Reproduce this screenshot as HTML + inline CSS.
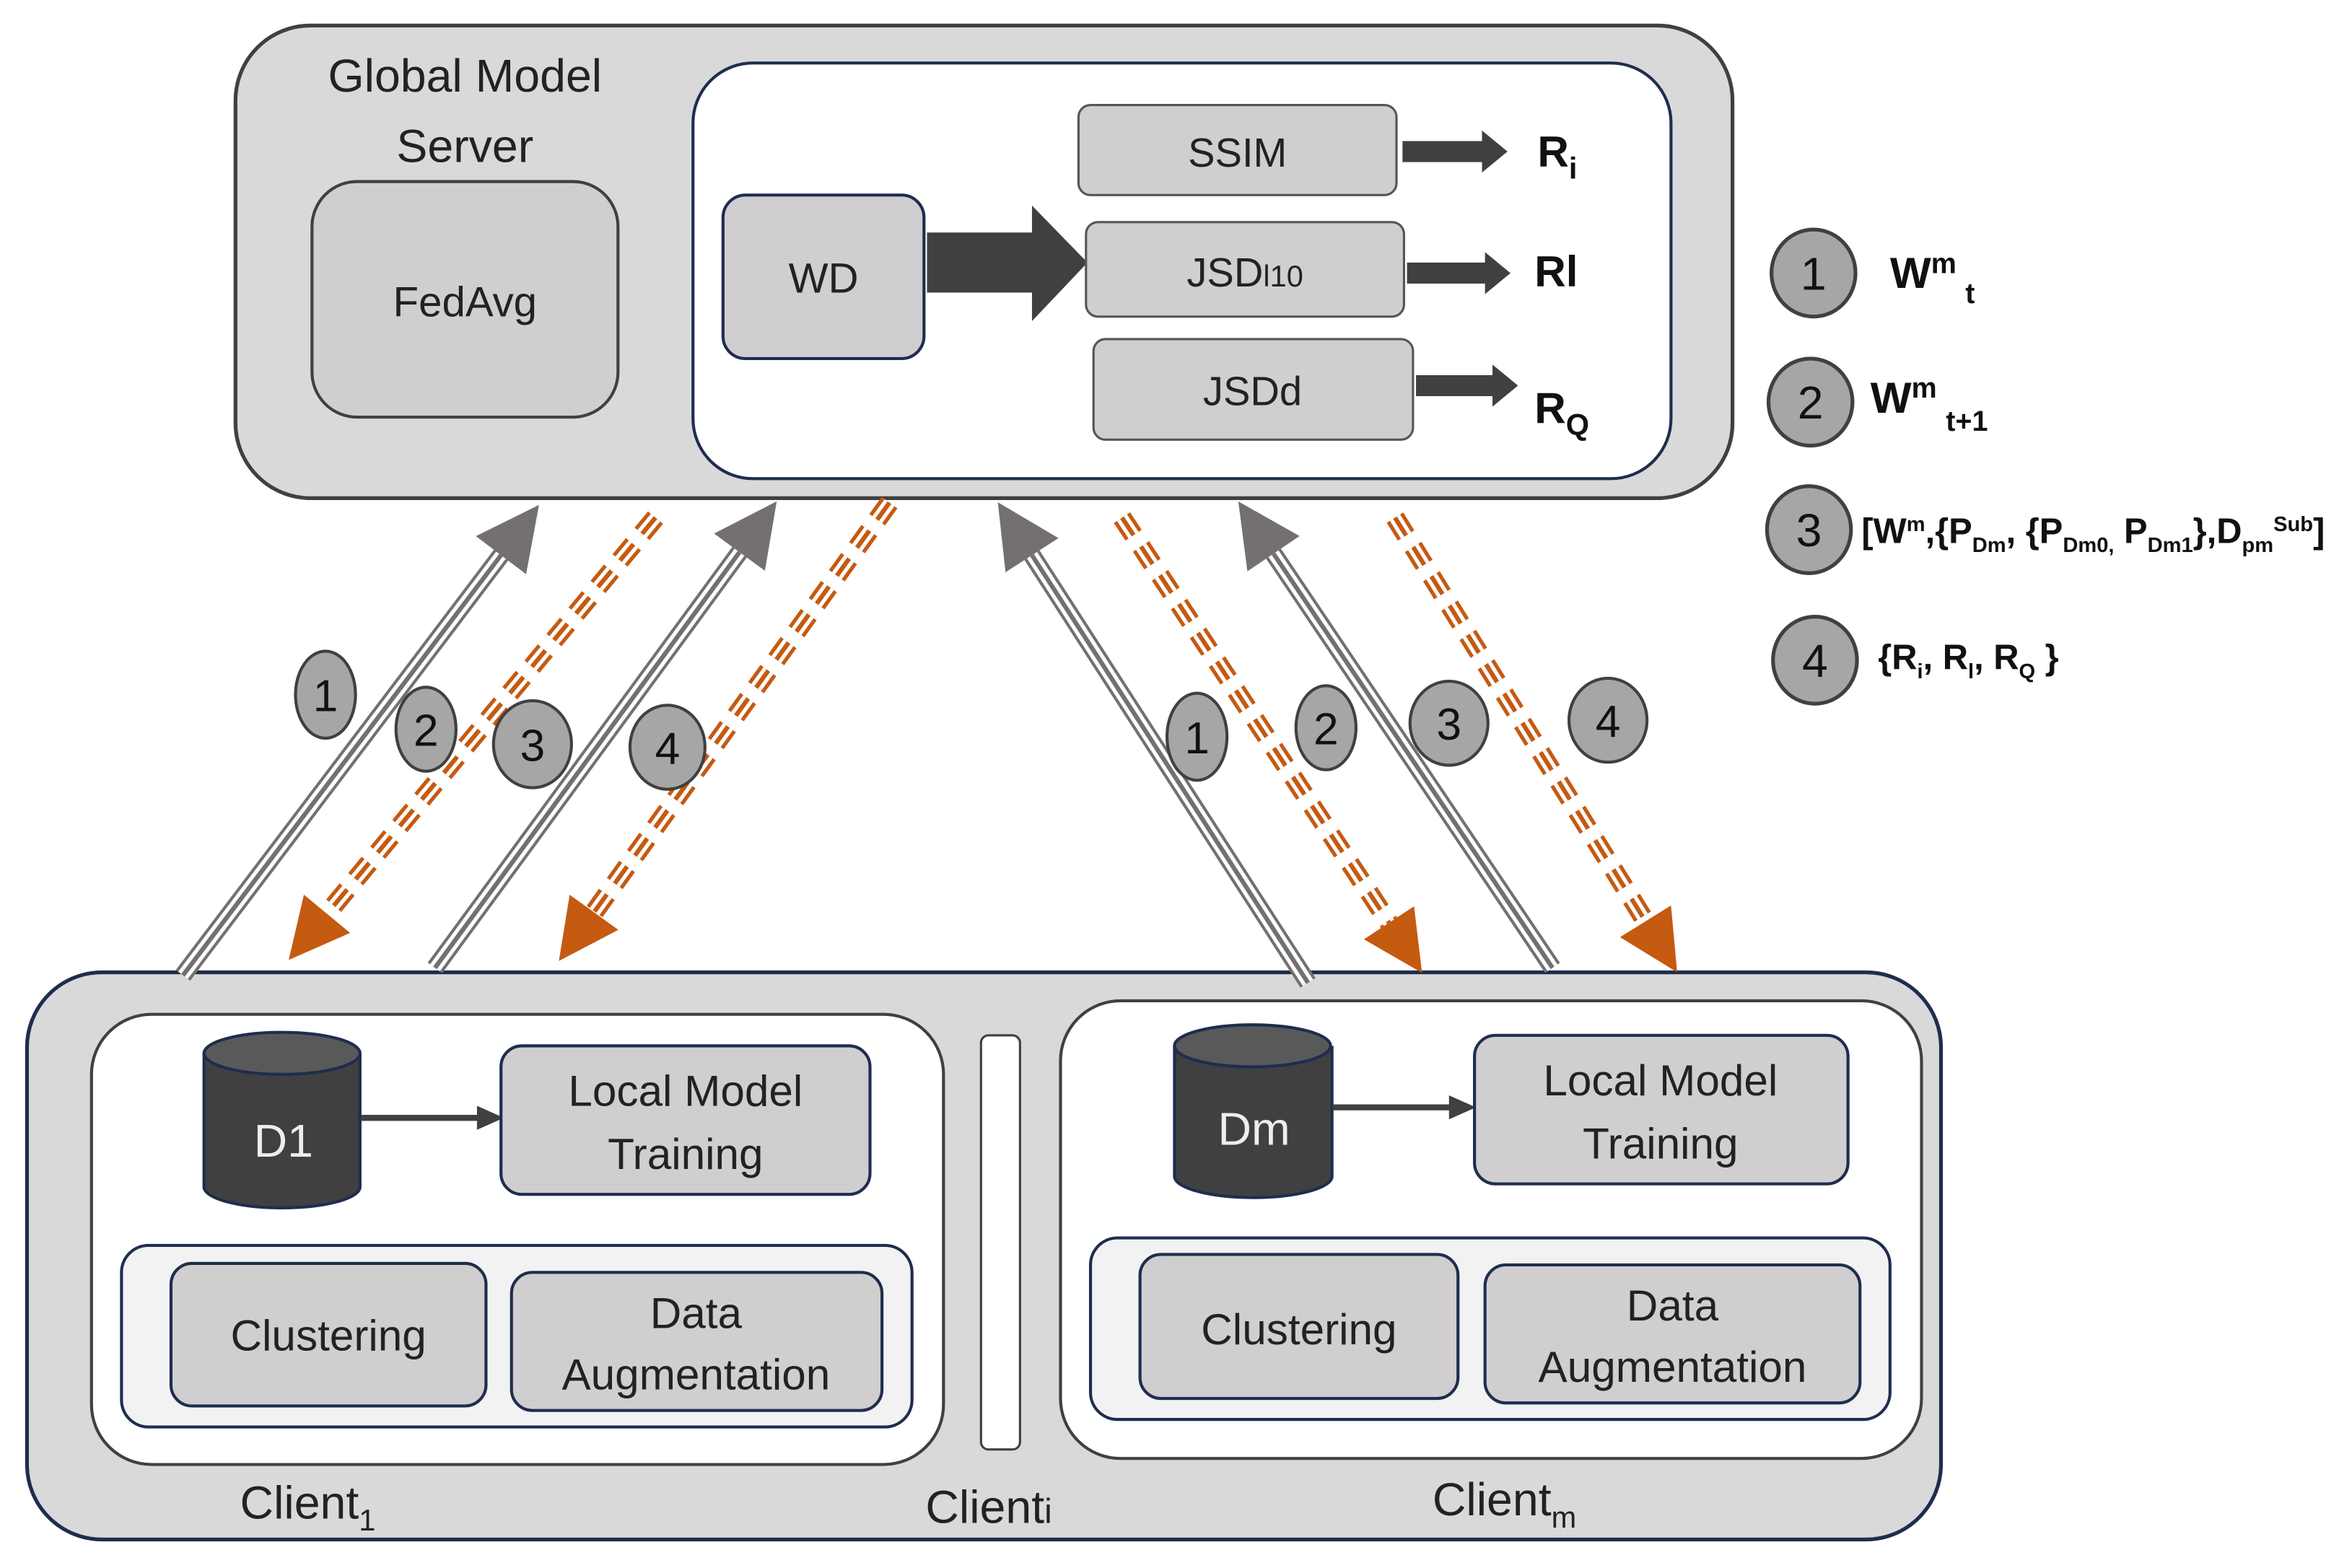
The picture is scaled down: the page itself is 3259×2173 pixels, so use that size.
<!DOCTYPE html>
<html><head><meta charset="utf-8">
<style>
html,body{margin:0;padding:0;background:#fff;}
svg{display:block;}
text{font-family:"Liberation Sans",sans-serif;}
</style></head>
<body>
<svg width="3259" height="2173" viewBox="0 0 1568 1045" preserveAspectRatio="none" xmlns="http://www.w3.org/2000/svg">
<defs>
<marker id="mg" markerUnits="userSpaceOnUse" markerWidth="50" markerHeight="50" refX="0" refY="0" viewBox="0 -25 45 50" orient="auto"><path d="M0,-21 L42,0 L0,21 Z" fill="#757070"/></marker>
<marker id="mo" markerUnits="userSpaceOnUse" markerWidth="50" markerHeight="50" refX="0" refY="0" viewBox="0 -25 45 50" orient="auto"><path d="M0,-20 L40,0 L0,20 Z" fill="#c55a11"/></marker>
</defs>

<!-- Server -->
<rect x="157" y="17" width="998" height="315" rx="50" fill="#d9d9d9" stroke="#404040" stroke-width="2.5"/>
<text x="310" y="61" font-size="31" text-anchor="middle" fill="#222">Global Model</text>
<text x="310" y="108" font-size="31" text-anchor="middle" fill="#222">Server</text>
<rect x="208" y="121" width="204" height="157" rx="30" fill="#d0cece" stroke="#404040" stroke-width="2"/>
<text x="310" y="211" font-size="28" text-anchor="middle" fill="#222">FedAvg</text>
<rect x="462" y="42" width="652" height="277" rx="40" fill="#fff" stroke="#1f2d4d" stroke-width="2"/>
<rect x="482" y="130" width="134" height="109" rx="15" fill="#d0cece" stroke="#1f2d4d" stroke-width="2"/>
<text x="549" y="195" font-size="28" text-anchor="middle" fill="#222">WD</text>
<path d="M618,155 L688,155 L688,137 L725,175 L688,214 L688,195 L618,195 Z" fill="#404040"/>
<rect x="719" y="70" width="212" height="60" rx="8" fill="#d0cece" stroke="#555" stroke-width="1.5"/>
<text x="825" y="111" font-size="27" text-anchor="middle" fill="#222">SSIM</text>
<rect x="724" y="148" width="212" height="63" rx="8" fill="#d0cece" stroke="#555" stroke-width="1.5"/>
<text x="830" y="191" font-size="27" text-anchor="middle" fill="#222">JSD<tspan font-size="20">l10</tspan></text>
<rect x="729" y="226" width="213" height="67" rx="8" fill="#d0cece" stroke="#555" stroke-width="1.5"/>
<text x="835" y="270" font-size="27" text-anchor="middle" fill="#222">JSDd</text>
<path d="M935,94 L988,94 L988,87 L1005,101 L988,115 L988,108 L935,108 Z" fill="#404040"/>
<path d="M938,175 L990,175 L990,168 L1007,182 L990,196 L990,189 L938,189 Z" fill="#404040"/>
<path d="M944,250 L995,250 L995,243 L1012,257 L995,271 L995,264 L944,264 Z" fill="#404040"/>
<text x="1025" y="111" font-size="29" font-weight="bold" font-family="Liberation Mono" fill="#111">R<tspan font-size="20" dy="8">i</tspan></text>
<text x="1023" y="191" font-size="29" font-weight="bold" fill="#111">Rl</text>
<text x="1023" y="282" font-size="29" font-weight="bold" font-family="Liberation Mono" fill="#111">R<tspan font-size="20" dy="8">Q</tspan></text>

<!-- Legend -->
<g fill="#a6a6a6" stroke="#404040" stroke-width="2.5">
<ellipse cx="1209" cy="182" rx="28" ry="29"/>
<ellipse cx="1207" cy="268" rx="28" ry="29"/>
<ellipse cx="1206" cy="353" rx="28" ry="29"/>
<ellipse cx="1210" cy="440" rx="28" ry="29"/>
</g>
<g font-size="31" text-anchor="middle" fill="#111">
<text x="1209" y="193">1</text><text x="1207" y="279">2</text><text x="1206" y="364">3</text><text x="1210" y="451">4</text>
</g>
<text x="1260" y="192" font-size="29" font-weight="bold" fill="#111">W<tspan font-size="19" dy="-10">m</tspan><tspan font-size="19" dy="20" dx="6">t</tspan></text>
<text x="1247" y="275" font-size="29" font-weight="bold" fill="#111">W<tspan font-size="19" dy="-10">m</tspan><tspan font-size="19" dy="22" dx="6">t+1</tspan></text>
<text x="1241" y="362" font-size="23.5" font-weight="bold" fill="#111">[W<tspan font-size="14" dy="-8">m</tspan><tspan dy="8">,{P</tspan><tspan font-size="14" dy="6">Dm</tspan><tspan dy="-6">, {P</tspan><tspan font-size="14" dy="6">Dm0,</tspan><tspan dy="-6"> P</tspan><tspan font-size="14" dy="6">Dm1</tspan><tspan dy="-6">},D</tspan><tspan font-size="14" dy="6">pm</tspan><tspan font-size="14" dy="-14">Sub</tspan><tspan dy="8">]</tspan></text>
<text x="1252" y="446" font-size="23.5" font-weight="bold" fill="#111">{R<tspan font-size="14" dy="6">i</tspan><tspan dy="-6">, R</tspan><tspan font-size="14" dy="6">l</tspan><tspan dy="-6">, R</tspan><tspan font-size="14" dy="6">Q</tspan><tspan dy="-6"> }</tspan></text>

<!-- Clients -->
<rect x="18" y="648" width="1276" height="378" rx="50" fill="#d9d9d9" stroke="#1f2d4d" stroke-width="2.5"/>
<rect x="61" y="676" width="568" height="300" rx="40" fill="#fff" stroke="#404040" stroke-width="2"/>
<rect x="654" y="690" width="26" height="276" rx="5" fill="#fff" stroke="#404040" stroke-width="1.5"/>
<rect x="707" y="667" width="574" height="305" rx="40" fill="#fff" stroke="#404040" stroke-width="2"/>

<!-- D1 -->
<path d="M136,702 L136,791 A52,14 0 0 0 240,791 L240,702" fill="#404040" stroke="#1f2d4d" stroke-width="2"/>
<ellipse cx="188" cy="702" rx="52" ry="14" fill="#595959" stroke="#1f2d4d" stroke-width="2"/>
<text x="189" y="771" font-size="31" text-anchor="middle" fill="#eee">D1</text>
<line x1="241" y1="745" x2="320" y2="745" stroke="#404040" stroke-width="4"/>
<path d="M318,737 L336,745 L318,753 Z" fill="#404040"/>
<rect x="334" y="697" width="246" height="99" rx="14" fill="#d0cece" stroke="#1f2d4d" stroke-width="2"/>
<text x="457" y="737" font-size="29" text-anchor="middle" fill="#222">Local Model</text>
<text x="457" y="779" font-size="29" text-anchor="middle" fill="#222">Training</text>
<rect x="81" y="830" width="527" height="121" rx="18" fill="#f2f2f2" stroke="#1f2d4d" stroke-width="2"/>
<rect x="114" y="842" width="210" height="95" rx="14" fill="#d0cece" stroke="#1f2d4d" stroke-width="2"/>
<text x="219" y="900" font-size="29" text-anchor="middle" fill="#222">Clustering</text>
<rect x="341" y="848" width="247" height="92" rx="14" fill="#d0cece" stroke="#1f2d4d" stroke-width="2"/>
<text x="464" y="885" font-size="29" text-anchor="middle" fill="#222">Data</text>
<text x="464" y="926" font-size="29" text-anchor="middle" fill="#222">Augmentation</text>

<!-- Dm -->
<path d="M783,697 L783,784 A52,14 0 0 0 888,784 L888,697" fill="#404040" stroke="#1f2d4d" stroke-width="2"/>
<ellipse cx="835" cy="697" rx="52" ry="14" fill="#595959" stroke="#1f2d4d" stroke-width="2"/>
<text x="836" y="763" font-size="31" text-anchor="middle" fill="#eee">Dm</text>
<line x1="889" y1="738" x2="968" y2="738" stroke="#404040" stroke-width="4"/>
<path d="M966,730 L984,738 L966,746 Z" fill="#404040"/>
<rect x="983" y="690" width="249" height="99" rx="14" fill="#d0cece" stroke="#1f2d4d" stroke-width="2"/>
<text x="1107" y="730" font-size="29" text-anchor="middle" fill="#222">Local Model</text>
<text x="1107" y="772" font-size="29" text-anchor="middle" fill="#222">Training</text>
<rect x="727" y="825" width="533" height="121" rx="18" fill="#f2f2f2" stroke="#1f2d4d" stroke-width="2"/>
<rect x="760" y="836" width="212" height="96" rx="14" fill="#d0cece" stroke="#1f2d4d" stroke-width="2"/>
<text x="866" y="896" font-size="29" text-anchor="middle" fill="#222">Clustering</text>
<rect x="990" y="843" width="250" height="92" rx="14" fill="#d0cece" stroke="#1f2d4d" stroke-width="2"/>
<text x="1115" y="880" font-size="29" text-anchor="middle" fill="#222">Data</text>
<text x="1115" y="921" font-size="29" text-anchor="middle" fill="#222">Augmentation</text>

<text x="160" y="1012" font-size="31" fill="#222">Client<tspan font-size="20" dy="8">1</tspan></text>
<text x="617" y="1015" font-size="31" fill="#222">Client<tspan font-size="23">i</tspan></text>
<text x="955" y="1010" font-size="31" fill="#222">Client<tspan font-size="20" dy="8">m</tspan></text>

<!-- Gray up connectors -->
<g fill="none">
<g stroke="#757070" stroke-width="12">
<line x1="122" y1="650" x2="334" y2="370"/>
<line x1="290" y1="645" x2="493" y2="368"/>
<line x1="872" y1="655" x2="688" y2="370"/>
<line x1="1035" y1="645" x2="849" y2="369"/>
</g>
<g stroke="#fff" stroke-width="8">
<line x1="122" y1="650" x2="334" y2="370"/>
<line x1="290" y1="645" x2="493" y2="368"/>
<line x1="872" y1="655" x2="688" y2="370"/>
<line x1="1035" y1="645" x2="849" y2="369"/>
</g>
<g stroke="#757070" stroke-width="3">
<line x1="122" y1="650" x2="334" y2="370" marker-end="url(#mg)"/>
<line x1="290" y1="645" x2="493" y2="368" marker-end="url(#mg)"/>
<line x1="872" y1="655" x2="688" y2="370" marker-end="url(#mg)"/>
<line x1="1035" y1="645" x2="849" y2="369" marker-end="url(#mg)"/>
</g>
<!-- Orange dashed down connectors -->
<g stroke="#c55a11" stroke-width="13" stroke-dasharray="14 9">
<line x1="437" y1="345" x2="218" y2="609"/>
<line x1="593" y1="335" x2="396" y2="608"/>
<line x1="748" y1="345" x2="926" y2="615"/>
<line x1="930" y1="345" x2="1097" y2="614"/>
</g>
<g stroke="#fff" stroke-width="8" stroke-dasharray="14 9">
<line x1="437" y1="345" x2="218" y2="609"/>
<line x1="593" y1="335" x2="396" y2="608"/>
<line x1="748" y1="345" x2="926" y2="615"/>
<line x1="930" y1="345" x2="1097" y2="614"/>
</g>
<g stroke="#c55a11" stroke-width="3" stroke-dasharray="14 9">
<line x1="437" y1="345" x2="218" y2="609" marker-end="url(#mo)"/>
<line x1="593" y1="335" x2="396" y2="608" marker-end="url(#mo)"/>
<line x1="748" y1="345" x2="926" y2="615" marker-end="url(#mo)"/>
<line x1="930" y1="345" x2="1097" y2="614" marker-end="url(#mo)"/>
</g>
</g>

<!-- connector number badges -->
<g fill="#a6a6a6" stroke="#404040" stroke-width="2">
<ellipse cx="217" cy="463" rx="20" ry="29"/>
<ellipse cx="284" cy="486" rx="20" ry="28"/>
<ellipse cx="355" cy="496" rx="26" ry="29"/>
<ellipse cx="445" cy="498" rx="25" ry="28"/>
<ellipse cx="798" cy="491" rx="20" ry="29"/>
<ellipse cx="884" cy="485" rx="20" ry="28"/>
<ellipse cx="966" cy="482" rx="26" ry="28"/>
<ellipse cx="1072" cy="480" rx="26" ry="28"/>
</g>
<g font-size="30" text-anchor="middle" fill="#111">
<text x="217" y="474">1</text><text x="284" y="497">2</text><text x="355" y="507">3</text><text x="445" y="509">4</text>
<text x="798" y="502">1</text><text x="884" y="496">2</text><text x="966" y="493">3</text><text x="1072" y="491">4</text>
</g>
</svg>
</body></html>
